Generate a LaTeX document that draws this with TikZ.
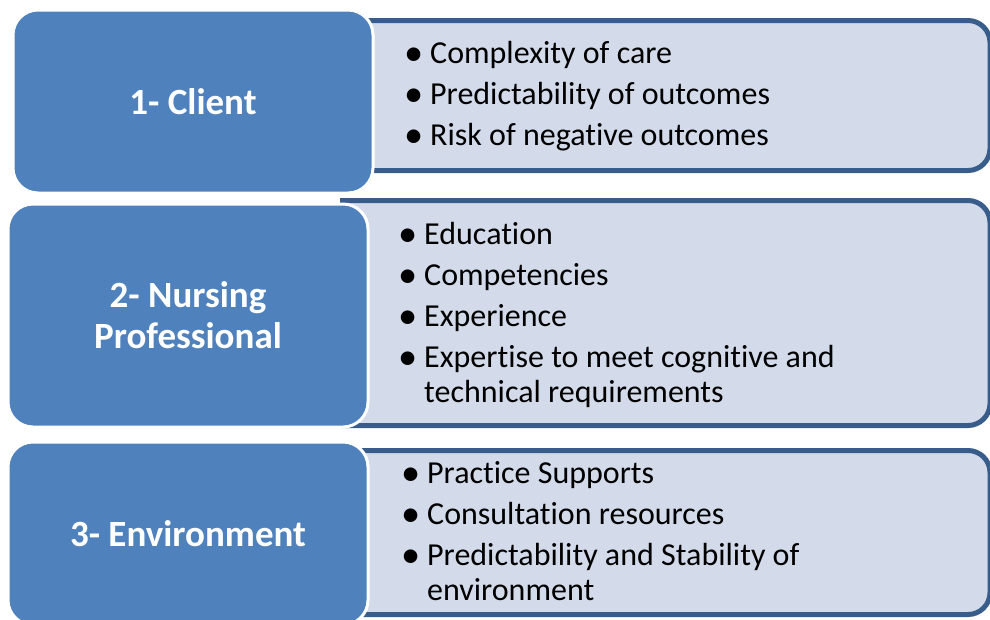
\documentclass[tikz,border=0pt]{standalone}
\usepackage{fontspec}
\setmainfont{Carlito}[Ligatures={NoCommon}]

\definecolor{headblue}{HTML}{4F81BD}
\definecolor{listfill}{HTML}{D3DBEA}
\definecolor{listline}{HTML}{385D8A}

\tikzset{
  headbox/.style={draw=white, line width=3pt, fill=headblue, rounded corners=25pt,
    text=white, font=\fontsize{37}{41}\selectfont\bfseries, align=center, inner sep=0pt},
  listarea/.style={inner sep=0pt, outer sep=0pt},
  listbox/.style={draw=listline, line width=5pt, fill=listfill, rounded corners=22pt},
  itemtext/.style={anchor=base west, inner sep=0pt, font=\fontsize{32}{35}\selectfont},
}
\newcommand{\bul}{\llap{\raisebox{-2pt}{\scalebox{1.2}{\textbullet}}\hspace{7pt}}}

\begin{document}
\begin{tikzpicture}[x=1pt,y=-1pt]
  % Define parameters
  \def\itemSkip{41}    % Distance between two bullet items
  \def\lineSkip{35}    % Distance between two lines of one item
  \def\listMid{665}    % Centre of the list boxes
  \def\listWidth{650}  % Width of the list boxes

  \useasboundingbox (0,0) rectangle (990,619);

  %% List boxes (behind the blue boxes, open on the left)
  \node[listarea, minimum width=\listWidth pt, minimum height=150pt] (clientlist) at (\listMid,95.5) {};
  \node[listarea, minimum width=\listWidth pt, minimum height=225pt] (nurselist) at (\listMid,313) {};
  \node[listarea, minimum width=\listWidth pt, minimum height=164pt] (envlist) at (\listMid,532.5) {};
  \foreach \lst in {clientlist, nurselist, envlist} {
      \filldraw[listbox] (\lst.north west) -- (\lst.north east) -- (\lst.south east) -- (\lst.south west);
  }

  %% Blue heading boxes
  \node[headbox, minimum width=360pt, minimum height=183pt] (client) at (193,101.5) {1- Client};
  \node[headbox, minimum width=360pt, minimum height=223pt] (nurse) at (188,315.5) {2- Nursing\\Professional};
  \node[headbox, minimum width=360pt, minimum height=183pt] (env) at (188,533.5) {3- Environment};

  % Case 1: Client
  \foreach \txt [count=\i] in {Complexity of care, Predictability of outcomes, Risk of negative outcomes} {
      \node[itemtext] (clientitem\i) at (430, {63+\itemSkip*(\i-1)}) {\bul\txt};
  }

  % Case 2: Nursing professional
  \foreach \txt [count=\i] in {Education, Competencies, Experience, Expertise to meet cognitive and} {
      \node[itemtext] (nurseitem\i) at (424, {244+\itemSkip*(\i-1)}) {\bul\txt};
  }
  \node[itemtext] (nurseitem5) at ([yshift=-\lineSkip pt]nurseitem4.base west) {technical requirements};

  % Case 3: Environment
  \foreach \txt [count=\i] in {Practice Supports, Consultation resources, Predictability and Stability of} {
      \node[itemtext] (envitem\i) at (427, {483+\itemSkip*(\i-1)}) {\bul\txt};
  }
  \node[itemtext] (envitem4) at ([yshift=-\lineSkip pt]envitem3.base west) {environment};
\end{tikzpicture}
\end{document}
